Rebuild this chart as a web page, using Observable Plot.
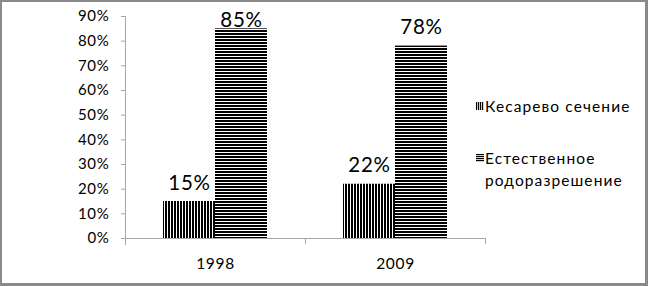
<!DOCTYPE html>
<html>
<head>
<meta charset="utf-8">
<script src="https://cdn.jsdelivr.net/npm/d3@7"></script>
<script src="https://cdn.jsdelivr.net/npm/@observablehq/plot@0.6"></script>
<style>
  html, body { margin: 0; padding: 0; background: #fff; }
  #wrap { position: relative; width: 648px; height: 286px; overflow: hidden; font-family: Lato, "Noto Sans", sans-serif; color: #000; }
  #wrap svg.plot { position: absolute; left: 0; top: 0; letter-spacing: 0.7px; }
  #border { position: absolute; left: 0; top: 0; width: 648px; height: 286px; box-sizing: border-box;
            border-style: solid; border-color: #8a8a8a; border-width: 2px 3px 3px 2px; pointer-events: none; }
  .leg { position: absolute; font-size: 15.5px; line-height: 22px; letter-spacing: 1.1px; }
  .mk { position: absolute; }
</style>
</head>
<body>
<svg width="0" height="0" style="position:absolute">
  <defs>
    <pattern id="vstripe" patternUnits="userSpaceOnUse" width="3" height="3">
      <rect width="3" height="3" fill="#fff"></rect>
      <rect width="2" height="3" fill="#000"></rect>
    </pattern>
    <pattern id="hstripe" patternUnits="userSpaceOnUse" width="3" height="3">
      <rect width="3" height="3" fill="#fff"></rect>
      <rect width="3" height="2" fill="#000"></rect>
    </pattern>
    <pattern id="vstripeS" patternUnits="userSpaceOnUse" width="2" height="2">
      <rect width="2" height="2" fill="#fff"></rect>
      <rect width="1.2" height="2" fill="#000"></rect>
    </pattern>
    <pattern id="hstripeS" patternUnits="userSpaceOnUse" width="2" height="2">
      <rect width="2" height="2" fill="#fff"></rect>
      <rect width="2" height="1.2" fill="#000"></rect>
    </pattern>
  </defs>
</svg>
<div id="wrap"></div>
<script>
// ---- data ----
const years = ["1998", "2009"];
const caesarean = [0.15, 0.22];
const natural = [0.85, 0.78];
const seriesNames = ["Кесарево сечение", "Естественное родоразрешение"];
const yTicks = [0, 0.1, 0.2, 0.3, 0.4, 0.5, 0.6, 0.7, 0.8, 0.9];

const table = years.map((year, i) => ({year, caesarean: caesarean[i], natural: natural[i]}));
const pct = d3.format(".0%");
const axisGray = "#a6a6a6";
const fits = v => v <= 0.8;

const chart = Plot.plot({
  width: 648,
  height: 286,
  marginLeft: 125,
  marginRight: 163,
  marginTop: 16,
  marginBottom: 48,
  style: {fontFamily: "Lato, 'Noto Sans', sans-serif", fontSize: "14px", color: "#000", background: "transparent"},
  x: {domain: years, padding: 0, axis: null},
  y: {domain: [0, 0.9], axis: null},
  marks: [
    Plot.barY(table, {x: "year", y: "caesarean", fill: "url(#vstripe)", insetLeft: 38, insetRight: 90}),
    Plot.barY(table, {x: "year", y: "natural", fill: "url(#hstripe)", insetLeft: 90, insetRight: 38}),
    Plot.ruleY([0], {stroke: axisGray}),
    Plot.frame({anchor: "left", stroke: axisGray, insetBottom: -6}),
    Plot.ruleX(years, {x: d => d, dx: 90, stroke: axisGray, insetTop: 222, insetBottom: -6}),
    Plot.axisY({ticks: yTicks, tickSize: 4, tickPadding: 12, tickFormat: pct, stroke: axisGray, fill: "#000", fontSize: 15, label: null}),
    Plot.axisX({tickSize: 0, tickPadding: 19, fill: "#000", fontSize: 15.5, label: null}),
    Plot.text(table, {x: "year", y: "caesarean", text: d => pct(d.caesarean), dx: -26, dy: -12, lineAnchor: "bottom", fontSize: 20.5, fill: "#000"}),
    Plot.text(table.filter(d => fits(d.natural)), {x: "year", y: "natural", text: d => pct(d.natural), dx: 26, dy: -12, lineAnchor: "bottom", fontSize: 20.5, fill: "#000"}),
    Plot.text(table.filter(d => !fits(d.natural)), {x: "year", frameAnchor: "top", text: d => pct(d.natural), dx: 26, dy: -4, lineAnchor: "top", fontSize: 20.5, fill: "#000"})
  ]
});
chart.classList.add("plot");
const wrap = document.getElementById("wrap");
wrap.appendChild(chart);

// legend (right side)
const legendItems = [
  {name: seriesNames[0], pattern: "vstripeS", top: 95},
  {name: seriesNames[1], pattern: "hstripeS", top: 147}
];
legendItems.forEach(item => {
  const mk = document.createElementNS("http://www.w3.org/2000/svg", "svg");
  mk.setAttribute("width", 8);
  mk.setAttribute("height", 8);
  mk.setAttribute("class", "mk");
  mk.style.left = "476px";
  mk.style.top = (item.top + 7) + "px";
  const r = document.createElementNS("http://www.w3.org/2000/svg", "rect");
  r.setAttribute("width", 8);
  r.setAttribute("height", 8);
  r.setAttribute("fill", `url(#${item.pattern})`);
  mk.appendChild(r);
  wrap.appendChild(mk);
  const t = document.createElement("div");
  t.className = "leg";
  t.style.left = "485px";
  t.style.top = item.top + "px";
  t.style.width = "158px";
  t.textContent = item.name;
  wrap.appendChild(t);
});
const border = document.createElement("div");
border.id = "border";
wrap.appendChild(border);
</script>
</body>
</html>
